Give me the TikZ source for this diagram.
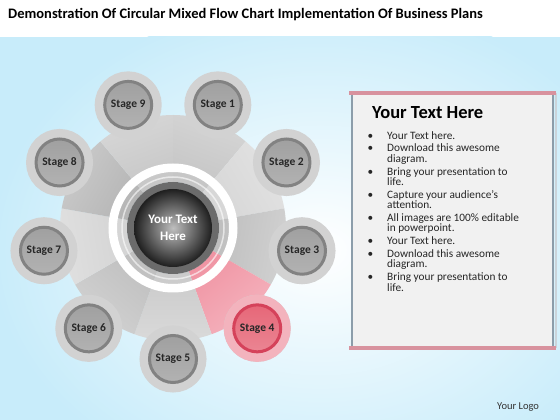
\documentclass[tikz,border=0pt]{standalone}
\usepackage{fontspec}
\setmainfont{Carlito}
\definecolor{bgblue}{HTML}{C8ECFA}
\definecolor{halogray}{HTML}{D2D2D2}
\definecolor{ringgray}{HTML}{828282}
\definecolor{bodytop}{HTML}{A0A0A0}
\definecolor{bodybot}{HTML}{B2B2B2}
\definecolor{pinkhalo}{HTML}{F3B3BD}
\definecolor{pinkring}{HTML}{D5425A}
\definecolor{pinkbody}{HTML}{E66778}
\definecolor{panelfill}{HTML}{F1F1F1}
\definecolor{paneledge}{HTML}{8C9DAA}
\definecolor{panelbar}{HTML}{D8929E}
\newcommand{\pb}{\llap{\textbullet\hspace{14pt}}}
\tikzset{
  stagebox/.style={circle, minimum size=47pt, inner sep=0pt, draw=ringgray, line width=3pt,
    top color=bodytop, bottom color=bodybot,
    preaction={draw=halogray, line width=20pt},
    font=\bfseries\fontsize{11.5}{13}\selectfont, text=black!85},
  hotbox/.style={stagebox, draw=pinkring, top color=pinkbody, bottom color=pinkbody!80!white,
    preaction={draw=pinkhalo, line width=20pt}},
}
\begin{document}
\begin{tikzpicture}[x=1pt,y=1pt]
\useasboundingbox (0,0) rectangle (560,420);
% background
\fill[white] (0,0) rectangle (560,420);
\fill[bgblue] (0,0) rectangle (560,383);
\begin{scope}
  \clip (0,0) rectangle (560,383);
  \shade[inner color=white, outer color=bgblue] (320,170) ellipse (330 and 250);
\end{scope}
\node[anchor=base west, inner sep=0pt, font=\bfseries\fontsize{14.5}{16}\selectfont] (title) at (8,401.7)
  {Demonstration Of Circular Mixed Flow Chart Implementation Of Business Plans};
\pgfmathsetmacro{\cx}{173}
\pgfmathsetmacro{\cy}{192}
\pgfmathsetmacro{\rin}{46}
\pgfmathsetmacro{\rout}{113}
\pgfmathsetmacro{\orbit}{131}
% wheel
\foreach \i/\c in {1/C4C4C4,2/D6D6D6,3/BEBEBE,4/F094A3,5/CACACA,6/BFBFBF,7/D3D3D3,8/B4B4B4,9/C6C6C6}{
  \pgfmathsetmacro{\b}{90-40*\i}
  \pgfmathsetmacro{\e}{130-40*\i}
  \pgfmathsetmacro{\t}{20-40*\i}
  \definecolor{seg}{HTML}{\c}
  \shade[shift={(\cx,\cy)}, top color=seg!70!white, bottom color=seg, shading angle=\t]
    (\b:\rin) arc[start angle=\b, end angle=\e, radius=\rin] -- (\e:\rout)
    arc[start angle=\e, end angle=\b, radius=\rout] -- cycle;
}
\draw[white, line width=8.5pt] (\cx,\cy) circle (60.25);
\draw[white, opacity=0.6, line width=1.5pt] (\cx,\cy) circle (51);
\fill[black!58] (\cx,\cy) circle (\rin);
\node[circle, minimum size=78pt, inner sep=0pt, inner color=black!25, outer color=black!88,
  text=white, align=center, font=\bfseries\fontsize{13}{16.7}\selectfont] (hub) at (\cx,\cy) {Your Text\\Here};
% stages
\foreach \i/\s in {1/stagebox,2/stagebox,3/stagebox,4/hotbox,5/stagebox,6/stagebox,7/stagebox,8/stagebox,9/stagebox}{
  \pgfmathsetmacro{\a}{110-40*\i}
  \node[\s] (s\i) at ([shift={(\cx,\cy)}]\a:\orbit) {Stage \i};
}
% text panel
\fill[panelfill] (352,72) rectangle (553,327);
\draw[paneledge!45, line width=2pt] (555.5,72) -- (555.5,327);
\draw[paneledge, line width=1.5pt] (352,72) -- (352,327) (553,72) -- (553,327);
\draw[panelbar, line width=3.5pt] (349,327) -- (556,327);
\draw[panelbar, line width=3.5pt] (349,72) -- (556,72);
\node[anchor=base west, inner sep=0pt, font=\bfseries\fontsize{18.5}{20}\selectfont] (head) at (372,301) {Your Text Here};
\node[anchor=north west, inner sep=0pt, align=left, text=black!85, font=\fontsize{11.3}{10.3}\selectfont] (list) at (387,289) {
\pb Your Text here.\\[2.6pt]
\pb Download this awesome\\
diagram.\\[2.6pt]
\pb Bring your presentation to\\
life.\\[2.6pt]
\pb Capture your audience’s\\
attention.\\[2.6pt]
\pb All images are 100\% editable\\
in powerpoint.\\[2.6pt]
\pb Your Text here.\\[2.6pt]
\pb Download this awesome\\
diagram.\\[2.6pt]
\pb Bring your presentation to\\
life.};
\node[anchor=base west, inner sep=0pt, text=black!80, font=\fontsize{10.5}{12}\selectfont] (logo) at (497,10.7) {Your Logo};
\end{tikzpicture}
\end{document}
